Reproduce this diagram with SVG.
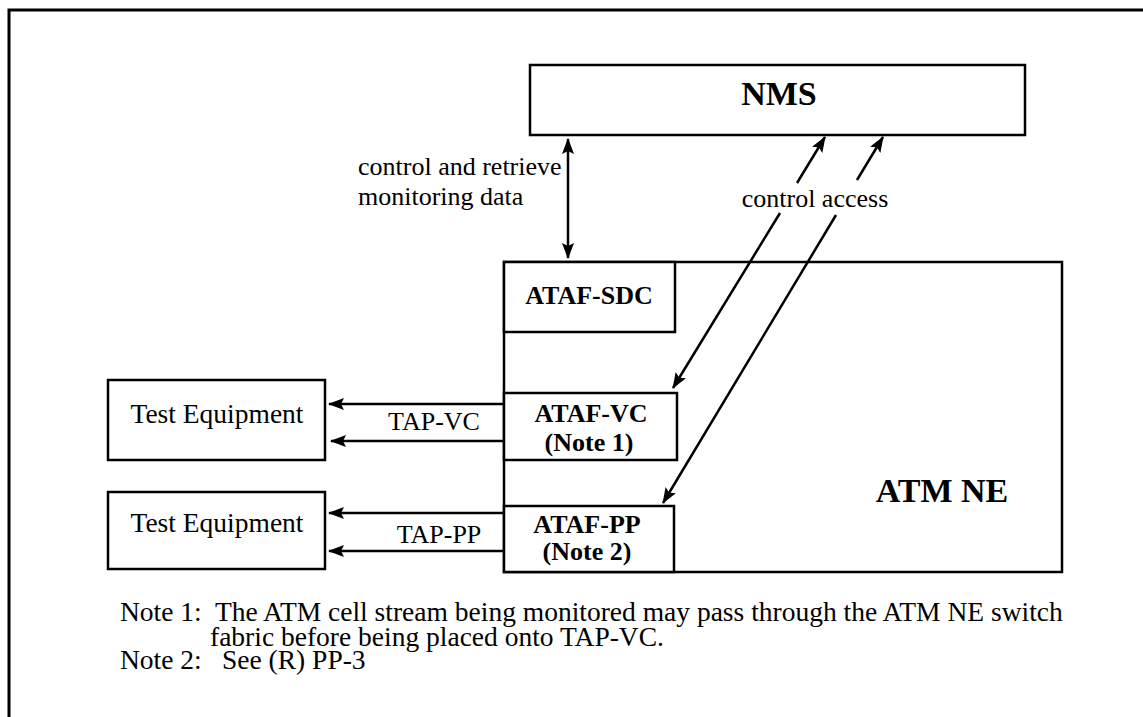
<svg xmlns="http://www.w3.org/2000/svg" width="1143" height="717" viewBox="0 0 1143 717">
<style>
.box{fill:#fff;stroke:#000;stroke-width:2.5}
.frame{fill:none;stroke:#000;stroke-width:3}
.t{font-family:"Liberation Serif","Times New Roman",serif;font-size:26px;fill:#000}
.te{font-size:27.5px}
.n{font-family:"Liberation Serif","Times New Roman",serif;font-size:27.5px;fill:#000}
.b{font-family:"Liberation Serif","Times New Roman",serif;font-size:26px;font-weight:bold;fill:#000}
.big{font-family:"Liberation Serif","Times New Roman",serif;font-size:34px;font-weight:bold;fill:#000}
.c{stroke:#000;stroke-width:2.5;fill:none}
.m{text-anchor:middle}
</style>
<defs>
<marker id="ah" viewBox="0 0 16 12" refX="15" refY="6" markerWidth="16" markerHeight="12" orient="auto-start-reverse" markerUnits="userSpaceOnUse">
<path d="M0,0 L16,6 L0,12 L3,6 z" fill="#000"/>
</marker>
</defs>
<rect width="1143" height="717" fill="#fff"/>
<path class="frame" d="M9,717 L9,10 L1143,10"/>

<g id="nms">
<rect class="box" x="530" y="65" width="495" height="70"/>
<text class="big m" x="779" y="105">NMS</text>
</g>

<g id="atm-ne">
<rect class="box" x="504" y="262" width="558" height="310"/>
<text class="big m" x="942" y="502">ATM NE</text>
</g>

<g id="ataf-sdc">
<rect class="box" x="504" y="262" width="171" height="70"/>
<text class="b m" x="589" y="304">ATAF-SDC</text>
</g>

<g id="ataf-vc">
<rect class="box" x="504" y="393" width="173" height="67"/>
<text class="b m" x="591" y="422">ATAF-VC</text>
<text class="b m" x="589" y="451">(Note 1)</text>
</g>

<g id="ataf-pp">
<rect class="box" x="504" y="506" width="170" height="66"/>
<text class="b m" x="587" y="533">ATAF-PP</text>
<text class="b m" x="587" y="560">(Note 2)</text>
</g>

<g id="test-eq-1">
<rect class="box" x="108" y="380" width="217" height="80"/>
<text class="t te m" x="217" y="423">Test Equipment</text>
</g>

<g id="test-eq-2">
<rect class="box" x="108" y="492" width="217" height="77"/>
<text class="t te m" x="217" y="532">Test Equipment</text>
</g>

<g id="connectors">
<line class="c" x1="568" y1="139" x2="568" y2="258" marker-start="url(#ah)" marker-end="url(#ah)"/>
<line class="c" x1="797" y1="183" x2="825" y2="137" marker-end="url(#ah)"/>
<line class="c" x1="780" y1="213" x2="673" y2="388" marker-end="url(#ah)"/>
<line class="c" x1="857" y1="180" x2="883" y2="137" marker-end="url(#ah)"/>
<line class="c" x1="836" y1="215" x2="663" y2="503" marker-end="url(#ah)"/>
<line class="c" x1="504" y1="404" x2="329" y2="404" marker-end="url(#ah)"/>
<line class="c" x1="504" y1="441" x2="331" y2="441" marker-end="url(#ah)"/>
<line class="c" x1="504" y1="513" x2="329" y2="513" marker-end="url(#ah)"/>
<line class="c" x1="504" y1="551" x2="329" y2="551" marker-end="url(#ah)"/>
</g>

<g id="labels">
<text class="t" x="358" y="175">control and retrieve</text>
<text class="t" x="358" y="205">monitoring data</text>
<text class="t m" x="815" y="207">control access</text>
<text class="t m" x="434" y="430">TAP-VC</text>
<text class="t m" x="439" y="543">TAP-PP</text>
</g>

<g id="notes">
<text class="n" x="120" y="621">Note 1:</text>
<text class="n" x="215" y="621">The ATM cell stream being monitored may pass through the ATM NE switch</text>
<text class="n" x="210" y="646">fabric before being placed onto TAP-VC.</text>
<text class="n" x="120" y="669">Note 2:</text>
<text class="n" x="222" y="669">See (R) PP-3</text>
</g>
</svg>
